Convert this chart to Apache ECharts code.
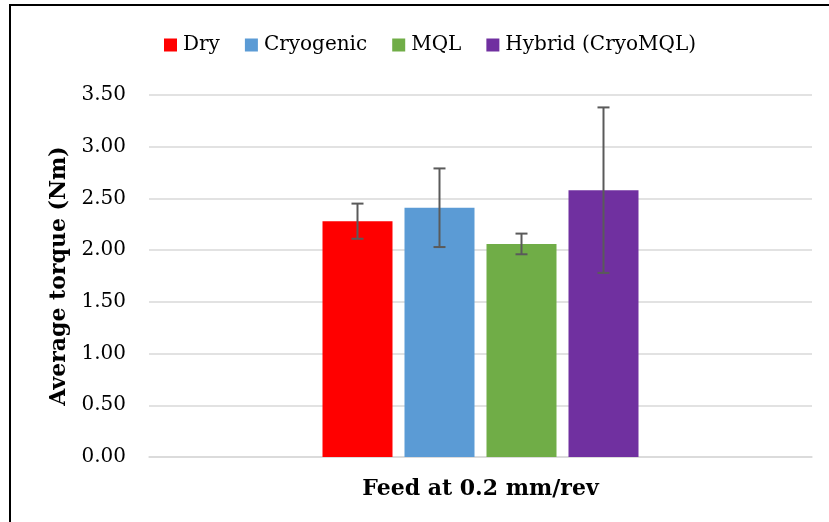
<!DOCTYPE html>
<html>
<head>
<meta charset="utf-8">
<script src="https://cdn.jsdelivr.net/npm/echarts@6/dist/echarts.min.js"></script>
<style>
  html, body { margin: 0; padding: 0; background: #fff; }
  #chart { width: 829px; height: 522px; }
</style>
</head>
<body>
<div id="chart"></div>
<script>
// Average torque per cooling condition at one feed rate
const categories = ['Feed at 0.2 mm/rev'];
const seriesNames = ['Dry', 'Cryogenic', 'MQL', 'Hybrid (CryoMQL)'];
const meanTorque = [2.28, 2.41, 2.06, 2.58];
const torqueError = [0.17, 0.38, 0.10, 0.80];
const barColors = ['#FF0000', '#5B9BD5', '#70AD47', '#7030A0'];
const yTicks = { min: 0, max: 3.5, interval: 0.5 };

const FONT = 'DejaVu Serif';
const BAR_WIDTH = 70;
const BAR_GAP = 12;

const chart = echarts.init(document.getElementById('chart'));

const barSeries = seriesNames.map((name, i) => ({
  name: name,
  type: 'bar',
  data: [meanTorque[i]],
  barWidth: BAR_WIDTH,
  barGap: (BAR_GAP / BAR_WIDTH * 100) + '%',
  itemStyle: { color: barColors[i] },
  z: 2
}));

// Whiskers: one item per bar, shifted sideways to sit on its bar centre
const errorData = seriesNames.map((name, i) => [0, meanTorque[i] - torqueError[i], meanTorque[i] + torqueError[i], i]);
const errorSeries = {
  type: 'custom',
  name: 'error',
  data: errorData,
  z: 5,
  renderItem: function (params, api) {
    const idx = api.value(3);
    const n = seriesNames.length;
    const shift = (idx - (n - 1) / 2) * (BAR_WIDTH + BAR_GAP);
    const lo = api.coord([api.value(0), api.value(1)]);
    const hi = api.coord([api.value(0), api.value(2)]);
    const x = lo[0] + shift;
    const cap = 6;
    const style = { stroke: '#5A5A5A', lineWidth: 2 };
    return {
      type: 'group',
      children: [
        { type: 'line', shape: { x1: x, y1: lo[1], x2: x, y2: hi[1] }, style: style },
        { type: 'line', shape: { x1: x - cap, y1: lo[1], x2: x + cap, y2: lo[1] }, style: style },
        { type: 'line', shape: { x1: x - cap, y1: hi[1], x2: x + cap, y2: hi[1] }, style: style }
      ]
    };
  }
};

chart.setOption({
  backgroundColor: '#ffffff',
  animation: false,
  textStyle: { fontFamily: FONT },
  graphic: [{
    type: 'rect',
    shape: { x: 10, y: 5, width: 860, height: 560 },
    style: { fill: 'none', stroke: '#000', lineWidth: 2 },
    silent: true
  }],
  legend: {
    data: seriesNames,
    left: 159,
    top: 30,
    itemWidth: 13,
    itemHeight: 13,
    itemGap: 25,
    icon: 'rect',
    textStyle: { fontFamily: FONT, fontSize: 20, color: '#000', padding: [0, 0, 0, 1] }
  },
  grid: { left: 149, right: 17, top: 95, bottom: 65 },
  xAxis: {
    type: 'category',
    data: categories,
    axisLine: { show: true, lineStyle: { color: '#D9D9D9', width: 1.5 } },
    axisTick: { show: false },
    axisLabel: { fontFamily: FONT, fontSize: 22, fontWeight: 'bold', color: '#000', margin: 21 }
  },
  yAxis: {
    type: 'value',
    min: yTicks.min,
    max: yTicks.max,
    interval: yTicks.interval,
    name: 'Average torque (Nm)',
    nameLocation: 'middle',
    nameGap: 76,
    nameTextStyle: { fontFamily: FONT, fontSize: 22, fontWeight: 'bold', color: '#000' },
    axisLine: { show: false },
    axisTick: { show: false },
    axisLabel: {
      fontFamily: FONT, fontSize: 20, color: '#000', margin: 23,
      formatter: v => v.toFixed(2)
    },
    splitLine: { lineStyle: { color: '#D9D9D9', width: 1.5 } }
  },
  series: [...barSeries, errorSeries]
});
</script>
</body>
</html>
